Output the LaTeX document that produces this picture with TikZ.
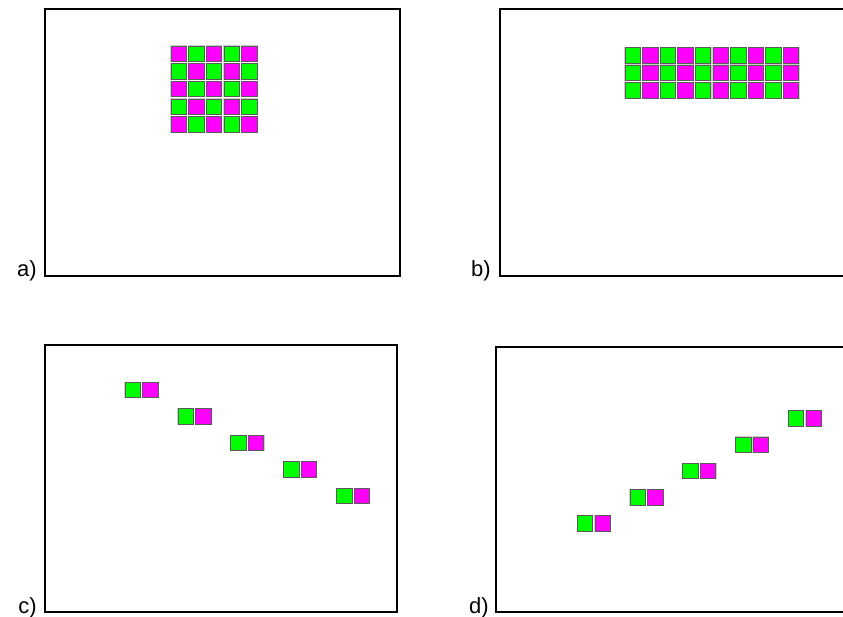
\documentclass[tikz,border=0pt]{standalone}
\usepackage{fontspec}
\setmainfont{Liberation Sans}
\definecolor{mag}{RGB}{255,0,255}
\definecolor{grn}{RGB}{0,255,0}
\definecolor{edge}{RGB}{90,90,90}
\definecolor{halo}{RGB}{205,205,205}
\tikzset{
  panel/.style={draw=black, line width=2pt},
  lbl/.style={font=\fontsize{22}{24}\selectfont, anchor=base east, inner sep=0pt},
  sq/.style={line width=0.7pt, draw=edge},
}
\newcommand{\cell}[3]{% x, y, colour
  \draw[halo, line width=1.4pt] (#1,#2) rectangle ++(15.4,15.4);
  \draw[sq, fill=#3] (#1,#2) rectangle ++(15.4,15.4);
}
\begin{document}
\begin{tikzpicture}[x=1pt,y=-1pt]
\useasboundingbox (0,0) rectangle (843,617);
\fill[white] (0,0) rectangle (843,617);
% panels
\draw[panel] (45,9.5) rectangle (400,276);
\draw[panel] (850,9.5) -- (499.5,9.5) -- (499.5,276) -- (850,276);
\draw[panel] (44.5,345) rectangle (397,612);
\draw[panel] (850,347) -- (496,347) -- (496,612) -- (850,612);
% labels
\node[lbl] (la) at (37,277) {a)};
\node[lbl] (lb) at (491,277) {b)};
\node[lbl] (lc) at (37,613) {c)};
\node[lbl] (ld) at (489,613) {d)};
% grid a: checkerboard 5x5
\foreach \i in {0,...,4}{
  \foreach \j in {0,...,4}{
    \pgfmathtruncatemacro{\p}{mod(\i+\j,2)}
    \ifnum\p=0 \def\col{mag}\else\def\col{grn}\fi
    \cell{171+17.65*\j}{46+17.65*\i}{\col}
  }
}
% grid b: 3 rows x 10 columns
\foreach \i in {0,...,2}{
  \foreach \j in {0,...,9}{
    \pgfmathtruncatemacro{\p}{mod(\j,2)}
    \ifnum\p=0 \def\col{grn}\else\def\col{mag}\fi
    \cell{625+17.6*\j}{47.5+17.6*\i}{\col}
  }
}
% panel c: descending pairs
\foreach \k in {0,...,4}{
  \cell{125+52.9*\k}{382.3+26.5*\k}{grn}
  \cell{142.6+52.9*\k}{382.3+26.5*\k}{mag}
}
% panel d: ascending pairs
\foreach \k in {0,...,4}{
  \cell{577.3+52.75*\k}{515.7-26.25*\k}{grn}
  \cell{594.9+52.75*\k}{515.7-26.25*\k}{mag}
}
\end{tikzpicture}
\end{document}
